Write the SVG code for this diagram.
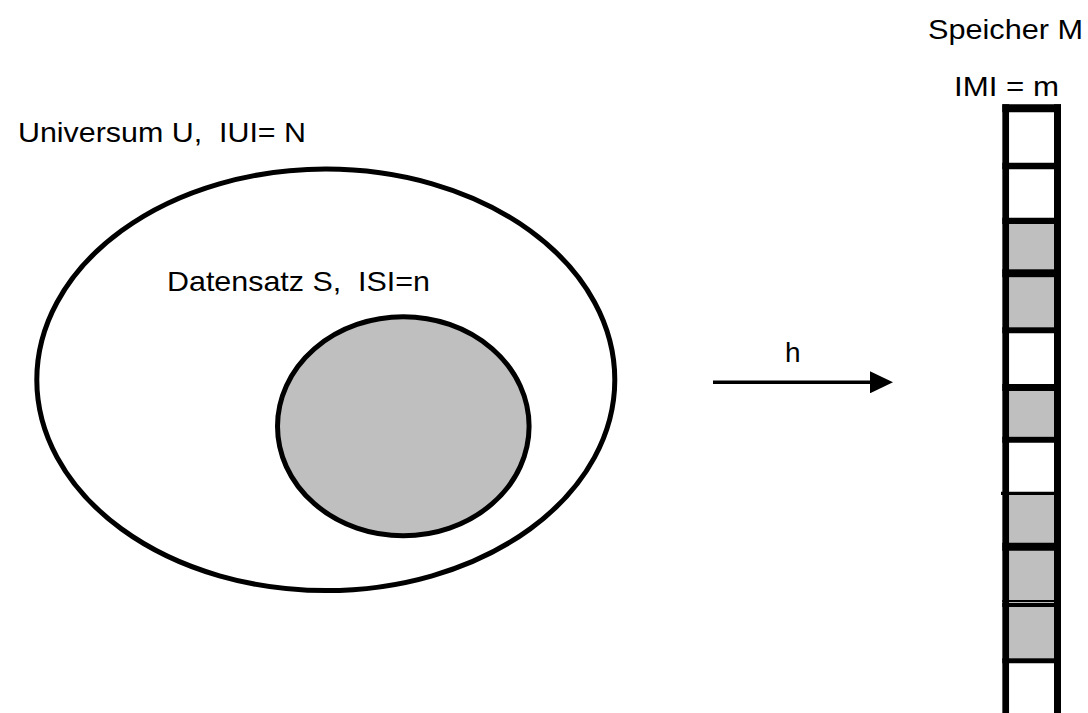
<svg xmlns="http://www.w3.org/2000/svg" width="1088" height="713" viewBox="0 0 1088 713">
  <style>
    .lbl { font-family: "Liberation Sans", Arial, sans-serif; font-size: 28px; fill: #000; white-space: pre; }
    .ring { stroke: #000; stroke-width: 5; }
    .cell { fill: #bfbfbf; }
    .div { stroke: #000; }
  </style>
  <defs>
    <marker id="arrowhead" markerWidth="23" markerHeight="22" refX="0" refY="11" orient="auto" markerUnits="userSpaceOnUse">
      <polygon points="0,0 23,11 0,22" fill="#000"/>
    </marker>
  </defs>
  <rect width="1088" height="713" fill="#fff"/>

  <!-- universe U -->
  <g id="universe">
    <ellipse class="ring" cx="325.8" cy="379.8" rx="289" ry="210.8" fill="#fff"/>
    <text class="lbl" x="18" y="142" textLength="288" lengthAdjust="spacingAndGlyphs" xml:space="preserve">Universum U,  IUI= N</text>
  </g>

  <!-- data set S -->
  <g id="dataset">
    <ellipse class="ring" cx="403.3" cy="426.3" rx="125.8" ry="109.5" fill="#bfbfbf"/>
    <text class="lbl" x="167" y="291" textLength="263" lengthAdjust="spacingAndGlyphs" xml:space="preserve">Datensatz S,  ISI=n</text>
  </g>

  <!-- hash function h -->
  <g id="connectors">
    <line x1="713" y1="382.3" x2="870" y2="382.3" stroke="#000" stroke-width="3.5" marker-end="url(#arrowhead)"/>
    <text class="lbl" x="785" y="361.5">h</text>
  </g>

  <!-- memory M -->
  <g id="memory">
    <text class="lbl" x="928" y="39" textLength="155" lengthAdjust="spacingAndGlyphs">Speicher M</text>
    <text class="lbl" x="954" y="95.5" textLength="105" lengthAdjust="spacingAndGlyphs">IMI = m</text>
    <rect x="1005" y="108" width="52" height="610" fill="#fff"/>
    <!-- occupied slots -->
    <rect class="cell" x="1009" y="224" width="45" height="45.3"/>
    <rect class="cell" x="1009" y="277.3" width="45" height="50"/>
    <rect class="cell" x="1009" y="391" width="45" height="45.7"/>
    <rect class="cell" x="1009" y="495" width="45" height="163.3"/>
    <!-- slot dividers -->
    <line class="div" x1="1002.3" y1="108.3" x2="1061" y2="108.3" stroke-width="8"/>
    <line class="div" x1="1002.3" y1="166" x2="1061" y2="166" stroke-width="6.6"/>
    <line class="div" x1="1002.3" y1="220.8" x2="1061" y2="220.8" stroke-width="6.3"/>
    <line class="div" x1="1002.3" y1="273.3" x2="1061" y2="273.3" stroke-width="8"/>
    <line class="div" x1="1002.3" y1="330.3" x2="1061" y2="330.3" stroke-width="6"/>
    <line class="div" x1="1002.3" y1="387.5" x2="1061" y2="387.5" stroke-width="7"/>
    <line class="div" x1="1002.3" y1="439.7" x2="1061" y2="439.7" stroke-width="6"/>
    <line class="div" x1="1001" y1="493.3" x2="1061" y2="493.3" stroke-width="3.3"/>
    <line class="div" x1="1002.3" y1="546.7" x2="1061" y2="546.7" stroke-width="8"/>
    <line class="div" x1="1002.3" y1="601" x2="1061" y2="601" stroke-width="2"/>
    <line class="div" x1="1002.3" y1="605" x2="1061" y2="605" stroke-width="4"/>
    <line class="div" x1="1002.3" y1="660.8" x2="1061" y2="660.8" stroke-width="5"/>
    <!-- column sides -->
    <line class="div" x1="1005.7" y1="104.3" x2="1005.7" y2="713" stroke-width="6.7"/>
    <line class="div" x1="1057.5" y1="104.3" x2="1057.5" y2="713" stroke-width="7"/>
  </g>
</svg>
